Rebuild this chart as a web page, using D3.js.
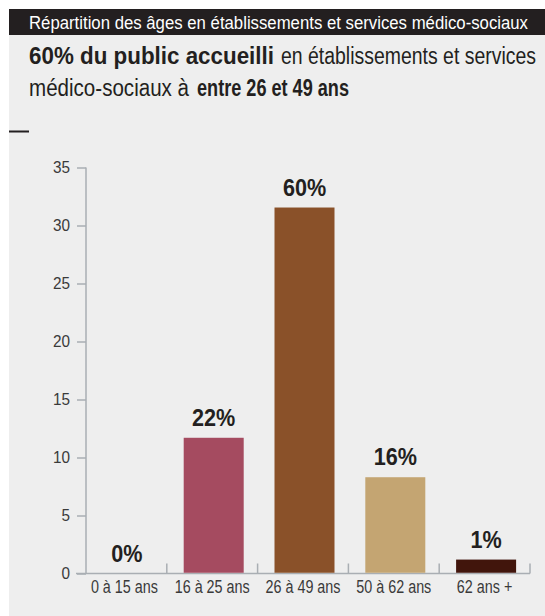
<!DOCTYPE html>
<html><head><meta charset="utf-8">
<script src="https://cdn.jsdelivr.net/npm/d3@7"></script>
<style>
html,body{margin:0;padding:0;background:#fff;}
svg{display:block;}
text{font-family:"Liberation Sans","Arial",sans-serif;}
</style></head>
<body>
<svg id="chart" width="545" height="616"></svg>
<script>
const categories = ["0 à 15 ans", "16 à 25 ans", "26 à 49 ans", "50 à 62 ans", "62 ans +"];
const values = [0, 11.7, 31.55, 8.3, 1.2];
const valueLabels = ["0%", "22%", "60%", "16%", "1%"];
const colors = ["#a54b60", "#a54b60", "#8a5129", "#c4a572", "#41150c"];
const yTicks = [0, 5, 10, 15, 20, 25, 30, 35];
const title = "Répartition des âges en établissements et services médico-sociaux";

const svg = d3.select("#chart");
function condense(sel, factor) {
  sel.each(function () {
    const w = this.getComputedTextLength();
    d3.select(this).attr("textLength", w * factor).attr("lengthAdjust", "spacingAndGlyphs");
  });
  return sel;
}
function fitTo(sel, width) {
  sel.attr("textLength", width).attr("lengthAdjust", "spacingAndGlyphs");
  return sel;
}

svg.append("rect").attr("x", 9).attr("y", 9).attr("width", 536).attr("height", 607).attr("fill", "#eeeeee");
svg.append("rect").attr("x", 9).attr("y", 9).attr("width", 536).attr("height", 26).attr("fill", "#231f20");
fitTo(svg.append("text").attr("x", 29).attr("y", 29).attr("fill", "#fff").attr("font-size", 17.5).text(title), 499);

// headline, each part fitted to its width in the reference
svg.append("text").attr("x", 29).attr("y", 64).attr("font-size", 23).attr("font-weight", "bold").attr("fill", "#231f20")
  .text("60% du public accueilli").call(fitTo, 245);
svg.append("text").attr("x", 281).attr("y", 64).attr("font-size", 23).attr("fill", "#231f20")
  .text("en établissements et services").call(fitTo, 255);
svg.append("text").attr("x", 29).attr("y", 96).attr("font-size", 23).attr("fill", "#231f20")
  .text("médico-sociaux à").call(fitTo, 160);
svg.append("text").attr("x", 197).attr("y", 96).attr("font-size", 23).attr("font-weight", "bold").attr("fill", "#231f20")
  .text("entre 26 et 49 ans").call(fitTo, 152);

svg.append("line").attr("x1", 9).attr("x2", 29).attr("y1", 131.5).attr("y2", 131.5)
  .attr("stroke", "#231f20").attr("stroke-width", 2);

const x = d3.scaleBand().domain(categories).range([76, 530]).padding(0);
const y = d3.scaleLinear().domain([0, 35]).range([573.5, 167.5]);
const axisColor = "#a9aeb3";

const yAxis = svg.append("g").attr("transform", "translate(86,0)")
  .call(d3.axisLeft(y).tickValues(yTicks).tickSize(9).tickPadding(7));
yAxis.select(".domain").attr("stroke", axisColor).attr("stroke-width", 1.5).attr("d", `M0,${y(35)}V${y(0)}`);
yAxis.selectAll(".tick line").attr("stroke", axisColor).attr("stroke-width", 1.5);
yAxis.selectAll(".tick text").attr("fill", "#3a3a3a").attr("font-size", 17)
  .style("font-family", '"Liberation Sans",Arial,sans-serif');
condense(yAxis.selectAll(".tick text"), 0.9);

svg.append("line").attr("x1", 76).attr("x2", 530).attr("y1", y(0)).attr("y2", y(0))
  .attr("stroke", axisColor).attr("stroke-width", 1.5);
svg.selectAll(".sep").data(categories).enter().append("line")
  .attr("x1", d => x(d) + x.bandwidth())
  .attr("x2", d => x(d) + x.bandwidth())
  .attr("y1", y(0) - 10).attr("y2", y(0)).attr("stroke", axisColor).attr("stroke-width", 1.5);

const barW = 60;
const cx = d => x(d) + x.bandwidth() / 2 + 1.5;
svg.selectAll(".bar").data(categories).enter().append("rect")
  .attr("x", d => cx(d) - barW / 2)
  .attr("y", (d, i) => y(values[i]))
  .attr("width", barW)
  .attr("height", (d, i) => Math.max(0, y(0) - y(values[i]) - 0.75))
  .attr("fill", (d, i) => colors[i]);

condense(svg.selectAll(".vl").data(categories).enter().append("text")
  .attr("x", (d, i) => i === 0 ? cx(d) + 4 : cx(d)).attr("y", (d, i) => y(values[i]) - 12)
  .attr("text-anchor", "middle").attr("font-size", 24).attr("font-weight", "bold").attr("fill", "#231f20")
  .text((d, i) => valueLabels[i]), 0.9);

condense(svg.selectAll(".xl").data(categories).enter().append("text")
  .attr("x", (d, i) => x(d) + x.bandwidth() / 2 + (i === 0 ? 3 : 0)).attr("y", 593)
  .attr("text-anchor", "middle").attr("font-size", 17.5).attr("fill", "#3a3a3a")
  .text(d => d), 0.82);
</script>
</body></html>
